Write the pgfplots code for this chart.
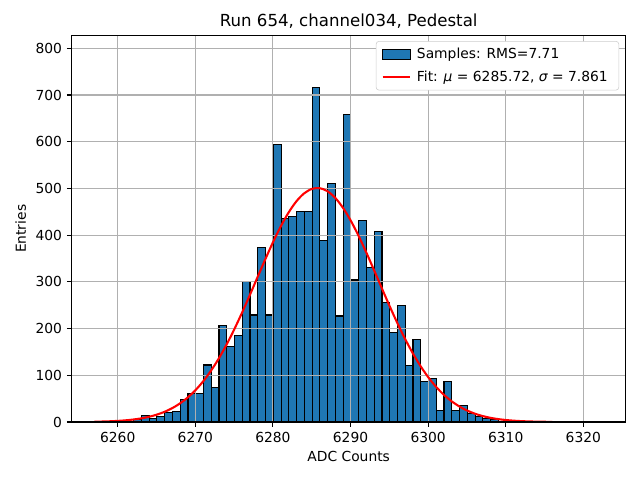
\documentclass[border=0pt]{standalone}
\usepackage{fontspec}
\setmainfont{DejaVu Sans}
\usepackage{pgfplots}
\pgfplotsset{compat=1.18}
\definecolor{mplblue}{HTML}{1F77B4}
\definecolor{gridgray}{HTML}{B0B0B0}
\definecolor{legframe}{HTML}{CCCCCC}
\begin{document}
\begin{tikzpicture}
\begin{axis}[
  set layers,
  scale only axis, width=5.54in, height=3.863in,
  at={(0,0)}, anchor=south west,
  xmin=6254.07, xmax=6325.46, ymin=0, ymax=827,
  xtick={6260,6270,...,6320}, ytick={0,100,...,800},
  grid=major, major grid style={gridgray, line width=0.8pt},
  axis line style={line width=0.8pt},
  tick style={black, line width=0.8pt},
  tick align=outside, xtick pos=left, ytick pos=left,
  major tick length=3.5pt,
  /pgf/number format/assume math mode=true,
  /pgf/number format/1000 sep={},
  tick label style={font=\fontsize{10}{12}\selectfont},
  title={Run 654, channel034, Pedestal},
  title style={font=\fontsize{12}{14}\selectfont, yshift=-4.5pt},
  xlabel={ADC Counts}, ylabel={Entries},
  label style={font=\fontsize{10}{12}\selectfont},
  legend cell align=left,
  legend style={at={(0.988,0.986)}, anchor=north east, draw=legframe,
    rounded corners=2pt, fill=white, font=\fontsize{10}{12}\selectfont,
    inner xsep=4pt, inner ysep=3pt, row sep=3pt,
    nodes={inner xsep=4pt}},
]
\addplot[ybar interval, fill=mplblue, draw=black, line width=0.8pt, on layer=axis background,
  legend image code/.code={\draw[sharp corners,fill=mplblue,draw=black,line width=0.8pt] (0pt,-3.5pt) rectangle (20pt,3.5pt);}]
coordinates {
(6260.05,1) (6261.05,2) (6262.05,5) (6263.05,13) (6264.05,8) (6265.05,12)
(6266.05,21) (6267.05,23) (6268.05,49) (6269.05,61) (6270.05,61) (6271.05,122)
(6272.05,74) (6273.05,206) (6274.05,161) (6275.05,186) (6276.05,301) (6277.05,229)
(6278.05,374) (6279.05,229) (6280.05,595) (6281.05,436) (6282.05,439) (6283.05,451)
(6284.05,451) (6285.05,717) (6286.05,388) (6287.05,510) (6288.05,227) (6289.05,659)
(6290.05,304) (6291.05,432) (6292.05,331) (6293.05,407) (6294.05,256) (6295.05,191)
(6296.05,249) (6297.05,120) (6298.05,177) (6299.05,86) (6300.05,94) (6301.05,24)
(6302.05,86) (6303.05,24) (6304.05,36) (6305.05,19) (6306.05,12) (6307.05,7)
(6308.05,5) (6309.05,1) (6310.05,0)
};
\addlegendentry{Samples: RMS=7.71}
\addplot[red, line width=1.5pt, smooth, on layer=axis ticks,
  legend image code/.code={\draw[sharp corners,red,line width=1.5pt] (0pt,0pt) -- (20pt,0pt);}]
coordinates {
(6257,0.63) (6258,1.00) (6259,1.55) (6260,2.37) (6261,3.57) (6262,5.28)
(6263,7.69) (6264,11.01) (6265,15.53) (6266,21.53) (6267,29.41) (6268,39.48)
(6269,52.16) (6270,67.83) (6271,86.80) (6272,109.27) (6273,135.30) (6274,164.88)
(6275,197.71) (6276,233.25) (6277,270.82) (6278,309.33) (6279,347.64) (6280,384.49)
(6281,418.35) (6282,447.92) (6283,471.89) (6284,489.15) (6285,498.90) (6286,500.68)
(6287,494.40) (6288,480.37) (6289,459.23) (6290,431.98) (6291,399.83) (6292,364.13)
(6293,326.28) (6294,287.69) (6295,249.58) (6296,213.05) (6297,178.94) (6298,147.88)
(6299,120.25) (6300,96.22) (6301,75.75) (6302,58.68) (6303,44.73) (6304,33.54)
(6305,24.74) (6306,17.97) (6307,12.84) (6308,9.03) (6309,6.25) (6310,4.25)
(6311,2.85) (6312,1.88) (6313,1.22) (6314,0.78) (6315,0.49) (6316,0.30)
};
\addlegendentry{Fit: {\itshape μ} = 6285.72, {\itshape σ} = 7.861}
\end{axis}
\pgfresetboundingbox
\useasboundingbox (-0.717in,-0.58in) rectangle (5.683in,4.22in);
\end{tikzpicture}
\end{document}
